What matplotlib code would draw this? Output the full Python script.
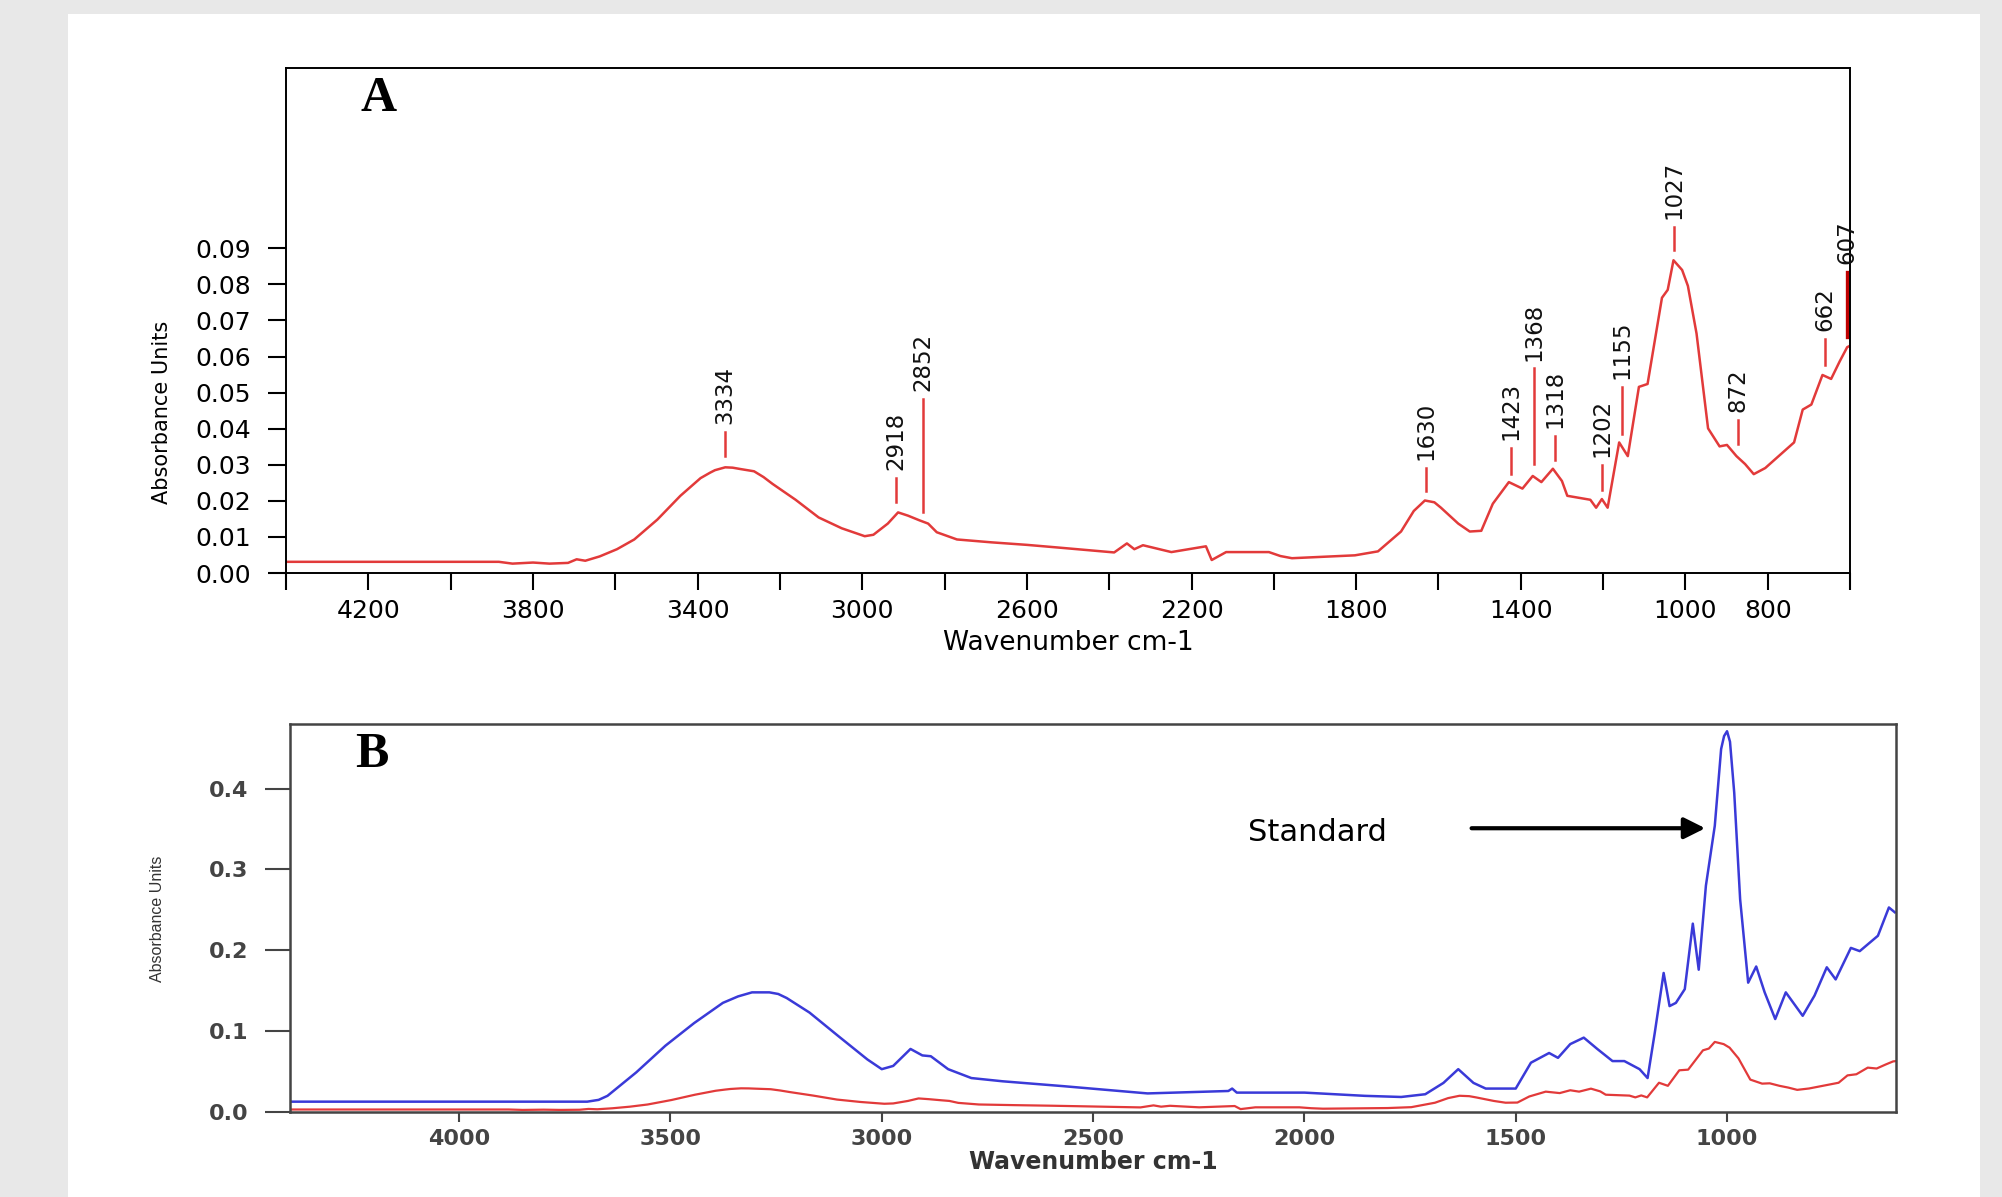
import matplotlib
matplotlib.use('Agg')
import matplotlib.pyplot as plt
from matplotlib.patches import Rectangle
from matplotlib.ticker import FixedLocator, FuncFormatter

# sample spectrum, wavenumber cm-1 -> absorbance
wn_sample = [4400, 3883, 3850, 3800, 3760, 3715, 3694, 3673, 3638, 3596, 3554, 3498,
             3442, 3393, 3370, 3358, 3333, 3315, 3295, 3263, 3240, 3218, 3162, 3106, 3050,
             2994, 2973, 2938, 2913, 2889, 2861, 2840, 2819, 2770, 2686, 2600, 2528, 2388,
             2357, 2339, 2318, 2249, 2165, 2151, 2116, 2012, 1984, 1956, 1803, 1747, 1691,
             1660, 1633, 1610, 1594, 1552, 1524, 1496, 1468, 1429, 1396, 1371, 1350, 1322,
             1300, 1287, 1231, 1217, 1203, 1189, 1161, 1140, 1113, 1092, 1057, 1043, 1029,
             1008, 994, 973, 945, 917, 899, 876, 855, 834, 806, 736, 715, 694, 667, 646,
             625, 607, 600]
abs_sample = [0.0031, 0.0031, 0.0026, 0.0029, 0.0026, 0.0028, 0.0038, 0.0034, 0.0046, 0.0066,
              0.0093, 0.0148, 0.0214, 0.0263, 0.0278, 0.0285, 0.0293, 0.0292, 0.0288, 0.0282,
              0.0266, 0.0247, 0.0203, 0.0154, 0.0124, 0.0102, 0.0106, 0.0137, 0.0168, 0.0159,
              0.0146, 0.0137, 0.0113, 0.0093, 0.0085, 0.0078, 0.0071, 0.0057, 0.0082, 0.0066,
              0.0077, 0.0058, 0.0074, 0.0036, 0.0058, 0.0058, 0.0047, 0.0041, 0.0049, 0.0060,
              0.0115, 0.0172, 0.0201, 0.0196, 0.0181, 0.0137, 0.0115, 0.0117, 0.0192, 0.0252,
              0.0234, 0.0269, 0.0252, 0.0289, 0.0255, 0.0214, 0.0203, 0.0181, 0.0205, 0.0181,
              0.0362, 0.0324, 0.0516, 0.0524, 0.0763, 0.0785, 0.0867, 0.0840, 0.0796, 0.0664,
              0.0401, 0.0351, 0.0355, 0.0324, 0.0302, 0.0274, 0.0291, 0.0362, 0.0453, 0.0467,
              0.0549, 0.0538, 0.0587, 0.0626, 0.0630]

# standard spectrum (panel B, blue)
wn_std = [4400, 3697, 3670, 3649, 3581, 3512, 3444, 3376, 3340, 3307, 3266, 3245, 3225, 3171,
          3103, 3034, 3000, 2973, 2932, 2904, 2884, 2843, 2788, 2714, 2571, 2371, 2180, 2171,
          2160, 2143, 2000, 1857, 1771, 1714, 1671, 1636, 1600, 1571, 1500, 1464, 1421, 1400,
          1371, 1339, 1307, 1271, 1243, 1207, 1188, 1171, 1150, 1136, 1121, 1100, 1081,
          1067, 1050, 1029, 1014, 1007, 1000, 993, 983, 969, 950, 931, 911, 886, 861, 821,
          793, 764, 743, 707, 686, 643, 617, 603]
abs_std = [0.0128, 0.0128, 0.015, 0.020, 0.049, 0.082, 0.110, 0.135, 0.143, 0.148, 0.148,
           0.146, 0.141, 0.123, 0.094, 0.065, 0.053, 0.057, 0.078, 0.070, 0.069, 0.053, 0.042,
           0.038, 0.032, 0.023, 0.026, 0.029, 0.024, 0.024, 0.024, 0.020, 0.0186, 0.022,
           0.036, 0.053, 0.036, 0.029, 0.029, 0.061, 0.073, 0.067, 0.084, 0.092, 0.078,
           0.063, 0.063, 0.053, 0.042, 0.098, 0.172, 0.131, 0.135, 0.152, 0.233, 0.176,
           0.280, 0.354, 0.449, 0.465, 0.471, 0.458, 0.395, 0.263, 0.160, 0.180, 0.148,
           0.115, 0.148, 0.119, 0.144, 0.179, 0.164, 0.203, 0.199, 0.218, 0.253, 0.247]

# peak labels in panel A: position, line bottom, line top
peak_wn = [3334, 2918, 2852, 1630, 1423, 1368, 1318, 1202, 1155, 1027, 872, 662, 607]
peak_lo = [0.0324, 0.0198, 0.0170, 0.0227, 0.0274, 0.0302, 0.0313, 0.0230, 0.0384, 0.0895, 0.0357, 0.0576, 0.0653]
peak_hi = [0.0390, 0.0263, 0.0483, 0.0291, 0.0346, 0.0567, 0.0379, 0.0300, 0.0516, 0.0960, 0.0423, 0.0648, 0.0834]

a_ticks = list(range(4400, 599, -200))
a_labels = [4200, 3800, 3400, 3000, 2600, 2200, 1800, 1400, 1000, 800]
a_yticks = [0.00, 0.01, 0.02, 0.03, 0.04, 0.05, 0.06, 0.07, 0.08, 0.09]
b_ticks = [4000, 3500, 3000, 2500, 2000, 1500, 1000]
b_yticks = [0.0, 0.1, 0.2, 0.3, 0.4]

red = '#e23a3a'
blue = '#3a3ad8'

fig = plt.figure(figsize=(20.02, 11.97), dpi=100)
fig.patch.set_facecolor('#e8e8e8')
fig.add_artist(Rectangle((0.034, 0.0), 0.955, 0.9883, transform=fig.transFigure,
                         facecolor='white', edgecolor='none', zorder=-5))

# ---- panel A
ax = fig.add_axes([0.1429, 0.5213, 0.7812, 0.4219])
ax.plot(wn_sample, abs_sample, color=red, lw=1.8)
ax.set_xlim(4400, 600)
ax.set_ylim(0, 0.14)
for w, lo, hi in zip(peak_wn, peak_lo, peak_hi):
    c = '#c00000' if w == 607 else red
    ax.plot([w, w], [lo, hi], color=c, lw=2.4 if w == 607 else 1.8)
    ax.text(w, hi + 0.0022, str(w), rotation=90, ha='center', va='bottom',
            fontsize=16.5, family='DejaVu Sans', color='#111111')
ax.xaxis.set_major_locator(FixedLocator(a_ticks))
ax.xaxis.set_major_formatter(FuncFormatter(lambda v, p: str(int(round(v))) if int(round(v)) in a_labels else ''))
ax.set_yticks(a_yticks)
ax.yaxis.set_major_formatter(FuncFormatter(lambda v, p: '%.2f' % v))
ax.tick_params(axis='x', length=12, width=1.5, pad=7, labelsize=18)
ax.tick_params(axis='y', length=13, width=1.5, pad=12, labelsize=18)
for s in ax.spines.values():
    s.set_linewidth(1.4)
ax.set_xlabel('Wavenumber cm-1', fontsize=19)
ax.xaxis.set_label_coords(0.5, -0.113)
ax.set_ylabel('Absorbance Units', fontsize=15)
ax.yaxis.set_label_coords(-0.073, 0.319)
ax.text(0.059, 0.939, 'A', transform=ax.transAxes, ha='center', va='center',
        fontsize=36, fontweight='bold', family='Liberation Serif')

# ---- panel B
bx = fig.add_axes([0.1449, 0.0710, 0.8022, 0.3242])
bx.plot(wn_sample, abs_sample, color=red, lw=1.6)
bx.plot(wn_std, abs_std, color=blue, lw=1.8)
bx.set_xlim(4400, 600)
bx.set_ylim(0, 0.48)
bx.set_xticks(b_ticks)
bx.set_yticks(b_yticks)
bx.yaxis.set_major_formatter(FuncFormatter(lambda v, p: '%.1f' % v))
bx.tick_params(axis='x', length=7, width=1.5, pad=5, labelsize=16, colors='#444444')
bx.tick_params(axis='y', length=18, width=1.5, pad=12, labelsize=16, colors='#444444')
for lab in bx.get_xticklabels() + bx.get_yticklabels():
    lab.set_fontweight('bold')
for s in bx.spines.values():
    s.set_linewidth(1.8)
    s.set_color('#444444')
bx.set_xlabel('Wavenumber cm-1', fontsize=17, fontweight='bold', color='#333333')
bx.xaxis.set_label_coords(0.5, -0.098)
bx.set_ylabel('Absorbance Units', fontsize=11.5, color='#333333', family='Liberation Sans')
bx.yaxis.set_label_coords(-0.078, 0.497)
bx.text(0.051, 0.92, 'B', transform=bx.transAxes, ha='center', va='center',
        fontsize=36, fontweight='bold', family='Liberation Serif')
bx.text(1969, 0.346, 'Standard', ha='center', va='center', fontsize=22, family='DejaVu Sans')
bx.annotate('', xy=(1045, 0.351), xytext=(1611, 0.351),
            arrowprops=dict(arrowstyle='-|>', color='black', lw=3, mutation_scale=32))

fig.savefig('out.png', dpi=100, facecolor=fig.get_facecolor())
